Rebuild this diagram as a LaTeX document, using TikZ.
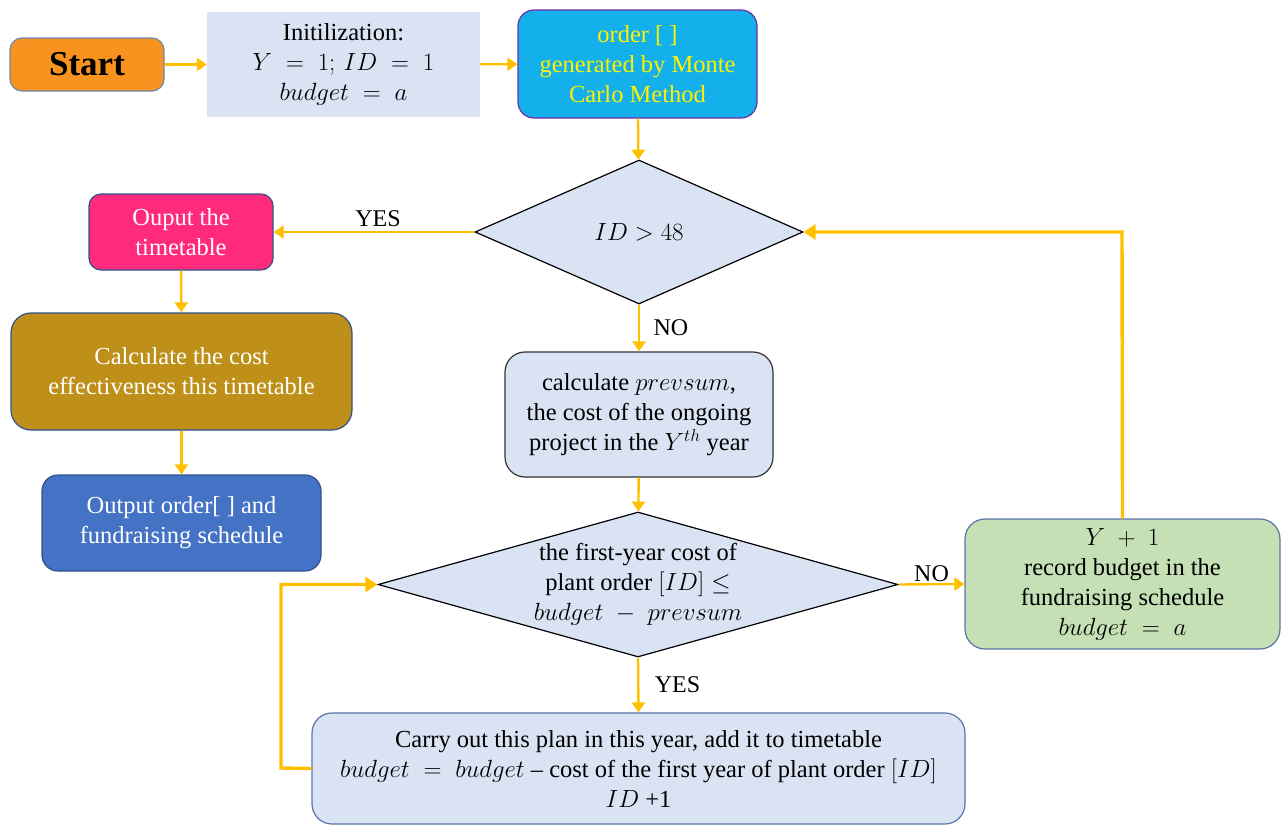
\documentclass[tikz,border=0pt]{standalone}
\usepackage{fontspec}
\setmainfont{Liberation Serif}
\usetikzlibrary{arrows.meta,shapes.geometric}
\definecolor{arr}{HTML}{FFC000}
\definecolor{boxbg}{HTML}{DAE3F3}
\definecolor{startc}{HTML}{F7931E}
\definecolor{cyanc}{HTML}{14B0EC}
\definecolor{pinkc}{HTML}{FF2A7B}
\definecolor{goldc}{HTML}{BF9019}
\definecolor{bluec}{HTML}{4472C4}
\definecolor{greenc}{HTML}{C5E0B4}
\definecolor{bord}{HTML}{2F528F}
\definecolor{purp}{HTML}{7030A0}
\begin{document}
\begin{tikzpicture}[x=1pt,y=-1pt,
  every node/.style={font=\fontsize{24.5}{30}\selectfont},
  rbox/.style={draw=bord,line width=1.2pt,rounded corners=12pt,align=center,inner sep=0pt},
  dia/.style={diamond,draw=black,fill=boxbg,line width=1.2pt,inner sep=0pt},
  conn/.style={draw=arr,line width=2.4pt,-{Triangle[width=13pt,length=10pt]}},
  loopc/.style={draw=arr,line width=3.4pt,-{Triangle[width=15pt,length=12pt]}},
  lbl/.style={font=\fontsize{24}{26}\selectfont}]
\useasboundingbox (0,0) rectangle (1282,825);
% nodes
\node[rbox,fill=startc,draw=bord!70,minimum width=154pt,minimum height=53pt,font=\fontsize{35}{35}\selectfont\bfseries] (start) at (87,64.5) {Start};
\node[fill=boxbg,minimum width=273pt,minimum height=105pt,align=center,inner sep=0pt] (init) at (343.5,64.5) {Initilization:\\$Y\;=\;1;\,ID\;=\;1$\\$budget\;=\;a$};
\node[rbox,fill=cyanc,draw=purp,minimum width=239pt,minimum height=108pt,text=yellow,rounded corners=16pt] (order) at (637.5,64) {order [ ]\\generated by Monte\\Carlo Method};
\node[dia,minimum width=328pt,minimum height=144pt] (d1) at (639,232) {};
\node[font=\fontsize{30}{32}\selectfont] (d1t) at (d1.center) {$ID>48$};
\node[rbox,fill=pinkc,minimum width=184pt,minimum height=76pt,text=white] (outt) at (181,232) {Ouput the\\timetable};
\node[rbox,fill=goldc,minimum width=341pt,minimum height=117pt,text=white,rounded corners=20pt] (calc) at (181.5,371.5) {Calculate the cost\\effectiveness this timetable};
\node[rbox,fill=bluec,minimum width=279pt,minimum height=96pt,text=white,rounded corners=16pt] (outo) at (181.5,523) {Output order[ ] and\\fundraising schedule};
\node[rbox,fill=boxbg,draw=black!80,minimum width=268pt,minimum height=125pt,rounded corners=20pt] (prev) at (639,414.5) {calculate $prevsum$,\\the cost of the ongoing\\project in the $Y^{th}$ year};
\node[dia,minimum width=520pt,minimum height=145pt] (d2) at (638,584.5) {};
\node[align=center] (d2t) at (d2.center) {the first-year cost of\\plant order $[ID]\leq$\\$budget\;-\;prevsum$};
\node[rbox,fill=greenc,draw=bord!80,minimum width=315pt,minimum height=130pt,rounded corners=20pt] (green) at (1122.5,584) {$Y\;+\;1$\\record budget in the\\fundraising schedule\\$budget\;=\;a$};
\node[rbox,fill=boxbg,draw=bord!80,minimum width=653pt,minimum height=111pt,rounded corners=20pt] (carry) at (638.5,768.5) {Carry out this plan in this year, add it to timetable\\$budget\;=\;budget$ -- cost of the first year of plant order $[ID]$\\$ID$ +1};
% connectors
\draw[conn] (start) -- (init);
\draw[conn] (init) -- (order);
\draw[conn] (order) -- (d1);
\draw[conn] (d1.west) -- (outt.east) node[lbl,pos=0.48,above=1pt] {YES};
\draw[conn] (outt) -- (calc);
\draw[conn] (calc) -- (outo);
\draw[conn] (d1.south) -- (prev.north) node[lbl,midway,right=10pt] {NO};
\draw[conn] (prev) -- (d2);
\draw[conn] (d2.east) -- (green.west) node[lbl,midway,above=-2pt] {NO};
\draw[conn] (d2.south) -- (carry.north) node[lbl,midway,right=12pt] {YES};
\coordinate (gtop) at (1122,232);
\draw[loopc] (green.north) -- (gtop) -- (d1.east);
\coordinate (cl) at (281,768);
\coordinate (cu) at (281,584.5);
\draw[loopc] (carry.west) -- (cl) -- (cu) -- (d2.west);
\end{tikzpicture}
\end{document}
